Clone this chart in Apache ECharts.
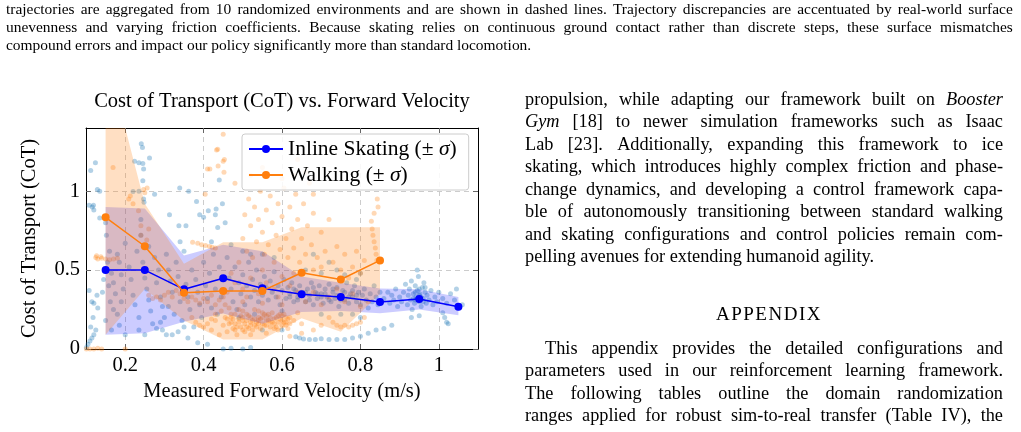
<!DOCTYPE html>
<html>
<head>
<meta charset="utf-8">
<script src="https://cdn.jsdelivr.net/npm/echarts@6/dist/echarts.min.js"></script>
<style>
  html, body { margin:0; padding:0; background:#fff; }
  body { width:1021px; height:432px; position:relative; overflow:hidden; font-family:"Liberation Serif", "Times New Roman", serif; color:#000; }
  #chart { position:absolute; left:0; top:0; width:564px; height:432px; }
  .ln { position:absolute; white-space:nowrap; }
  .j { display:flex; justify-content:space-between; }
  .cap { font-size:15.45px; line-height:18px; left:6px; width:1007px; }
  .body { font-size:18.3px; line-height:22.5px; left:525px; width:478px; }
  .hd { position:absolute; left:530px; width:478px; text-align:center; font-size:19px; line-height:22.5px; letter-spacing:1.5px; }
  i { font-style:italic; }
</style>
</head>
<body>
<div id="chart"></div>
<div id="text"></div>
<script>
// ---------------- data ----------------
const xTicks = [0.2, 0.4, 0.6, 0.8, 1.0];
const yTicks = [0, 0.5, 1];

const skateVel   = [0.15, 0.25, 0.35, 0.45, 0.55, 0.65, 0.75, 0.85, 0.95, 1.05];
const skateMean  = [0.50, 0.50, 0.378, 0.448, 0.385, 0.347, 0.330, 0.298, 0.317, 0.267];
const skateUpper = [0.90, 0.89, 0.593, 0.660, 0.620, 0.460, 0.420, 0.383, 0.378, 0.330];
const skateLower = [0.09, 0.10, 0.172, 0.225, 0.160, 0.235, 0.240, 0.227, 0.250, 0.214];

const walkVel    = [0.15, 0.25, 0.35, 0.45, 0.55, 0.65, 0.75, 0.85];
const walkMean   = [0.834, 0.651, 0.357, 0.368, 0.368, 0.483, 0.440, 0.561];
const walkUpper  = [1.88, 0.92, 0.54, 0.677, 0.677, 0.771, 0.771, 0.771];
const walkLower  = [0.09, 0.38, 0.18, 0.06, 0.06, 0.195, 0.11, 0.35];

const skatePts = [
 [0.101,0.01],[0.105,0.03],[0.11,0.05],[0.115,0.07],[0.12,0.09],[0.112,0.14],[0.125,0.12],
 [0.108,0.37],[0.115,0.30],[0.12,0.29],[0.128,0.34],[0.13,0.26],[0.118,0.20],
 [0.108,0.91],[0.116,0.90],[0.112,1.13],[0.124,1.18],[0.129,1.01],[0.135,1.0],[0.119,0.91],[0.12,0.88],[0.135,0.83],
 [0.15,0.80],[0.152,0.72],[0.16,0.62],[0.155,0.55],[0.165,0.48],[0.17,0.42],[0.158,0.40],[0.175,0.35],[0.162,0.30],
 [0.17,0.25],[0.18,0.22],[0.15,0.18],[0.165,0.12],[0.185,0.55],[0.19,0.47],[0.18,0.60],[0.195,0.38],[0.145,0.44],
 [0.19,0.30],[0.2,0.67],[0.185,0.15],[0.2,0.09],[0.142,0.36],
 [0.21,0.52],[0.215,0.44],[0.22,0.34],[0.225,0.28],[0.23,0.62],[0.235,0.20],[0.24,0.72],[0.245,0.55],[0.25,0.45],
 [0.255,0.38],[0.26,0.31],[0.265,0.24],[0.27,0.16],[0.275,0.58],[0.28,0.42],[0.285,0.50],[0.29,0.33],[0.295,0.27],
 [0.3,0.20],[0.235,0.12],[0.25,0.09],[0.28,0.13],[0.26,0.65],[0.24,0.82],
 [0.241,1.30],[0.244,1.276],[0.224,1.19],[0.235,1.18],[0.245,1.175],[0.262,1.21],[0.247,1.14],[0.245,1.066],
 [0.235,1.0],[0.22,0.998],[0.275,0.98],[0.247,0.95],[0.248,0.93],
 [0.339,1.02],[0.362,1.0],[0.382,0.935],[0.313,0.85],[0.337,0.78],[0.355,0.78],[0.4,0.834],[0.412,0.876],
 [0.432,0.887],[0.44,1.07],[0.436,0.77],[0.39,0.85],
 [0.305,0.6],[0.31,0.5],[0.315,0.43],[0.31,0.27],[0.32,0.36],[0.325,0.22],[0.33,0.55],[0.335,0.46],[0.34,0.30],
 [0.345,0.18],[0.35,0.62],[0.355,0.41],[0.36,0.33],[0.365,0.25],[0.37,0.50],[0.375,0.14],[0.38,0.44],[0.385,0.36],
 [0.39,0.28],[0.395,0.20],[0.4,0.55],[0.405,0.40],[0.41,0.32],[0.415,0.48],[0.42,0.26],[0.425,0.60],[0.43,0.38],
 [0.435,0.22],[0.44,0.52],[0.445,0.33],[0.34,0.68],[0.42,0.68],
 [0.29,0.17],[0.295,0.12],[0.305,0.09],[0.32,0.09],[0.335,0.11],[0.35,0.14],[0.36,0.07],[0.385,0.04],[0.41,0.03],
 [0.448,0.92],[0.43,0.85],[0.455,0.8],
 [0.46,0.58],[0.465,0.45],[0.47,0.38],[0.475,0.30],[0.48,0.52],[0.485,0.25],[0.49,0.42],[0.495,0.35],[0.5,0.47],
 [0.505,0.28],[0.51,0.40],[0.515,0.55],[0.52,0.33],[0.525,0.44],[0.53,0.37],[0.535,0.50],[0.54,0.30],[0.545,0.41],
 [0.55,0.34],[0.555,0.46],[0.56,0.39],[0.565,0.31],[0.57,0.43],[0.575,0.36],[0.58,0.49],[0.585,0.33],[0.59,0.40],
 [0.595,0.28],[0.6,0.37],[0.605,0.44],[0.61,0.32],[0.615,0.39],[0.62,0.35],[0.625,0.42],[0.63,0.30],[0.635,0.37],
 [0.64,0.33],[0.645,0.40],[0.65,0.36],
 [0.5,0.62],[0.52,0.6],[0.47,0.66],[0.55,0.6],[0.58,0.58],[0.49,0.2],[0.53,0.22],[0.6,0.24],
 [0.45,0.0],[0.47,0.005],[0.5,0.0],[0.52,0.01],[0.55,0.12],[0.6,0.12],
 [0.635,0.078],[0.645,0.07],[0.655,0.064],[0.67,0.06],[0.685,0.06],[0.70,0.065],[0.72,0.06],[0.74,0.06],[0.76,0.06],
 [0.78,0.07],[0.80,0.08],[0.82,0.1],[0.84,0.12],[0.86,0.13],[0.88,0.15],
 [0.66,0.30],[0.665,0.38],[0.67,0.34],[0.675,0.42],[0.68,0.28],[0.685,0.36],[0.69,0.32],[0.695,0.40],[0.7,0.35],
 [0.705,0.29],[0.71,0.38],[0.715,0.33],[0.72,0.41],[0.725,0.30],[0.73,0.36],[0.735,0.32],[0.74,0.39],[0.745,0.27],
 [0.75,0.34],[0.755,0.37],[0.76,0.31],[0.765,0.42],[0.77,0.29],[0.775,0.35],[0.78,0.33],[0.785,0.40],[0.79,0.30],
 [0.795,0.36],[0.8,0.28],[0.805,0.34],[0.81,0.38],[0.815,0.31],[0.82,0.26],[0.825,0.35],[0.83,0.30],[0.835,0.40],
 [0.84,0.33],[0.845,0.28],[0.85,0.36],
 [0.66,0.5],[0.7,0.48],[0.72,0.55],[0.68,0.6],[0.76,0.47],[0.74,0.5],[0.79,0.44],[0.8,0.48],[0.75,0.22],[0.7,0.22],
 [0.8,0.2],[0.78,0.22],
 [0.86,0.32],[0.87,0.36],[0.875,0.29],[0.88,0.34],[0.885,0.31],[0.89,0.38],[0.895,0.27],[0.9,0.33],[0.905,0.30],
 [0.91,0.36],[0.915,0.41],[0.92,0.28],[0.922,0.34],[0.925,0.38],[0.928,0.31],[0.93,0.43],[0.932,0.25],[0.935,0.35],
 [0.938,0.29],[0.94,0.40],[0.942,0.33],[0.945,0.37],[0.948,0.46],[0.95,0.30],[0.952,0.35],[0.955,0.27],[0.958,0.39],
 [0.96,0.32],[0.962,0.42],[0.965,0.36],[0.968,0.29],[0.97,0.34],[0.975,0.31],[0.98,0.37],[0.985,0.28],[0.99,0.33],
 [0.995,0.30],[1.0,0.36],[1.01,0.32],[1.02,0.29],[1.03,0.35],[1.04,0.31],[1.05,0.26],[1.06,0.28],[1.01,0.23],
 [1.015,0.20],[1.02,0.17],[1.024,0.16],[0.93,0.2],[0.95,0.21],[0.945,0.5],[1.045,0.38],
 [0.62,0.33],[0.63,0.38],[0.64,0.31],[0.65,0.34],[0.66,0.36],[0.67,0.31],[0.68,0.39],[0.69,0.35],[0.7,0.33],
 [0.71,0.35],[0.72,0.31],[0.73,0.38],[0.74,0.34],[0.75,0.31],[0.76,0.36],[0.77,0.33],[0.78,0.37],[0.79,0.34],
 [0.94,0.31],[0.95,0.34],[0.96,0.3],[0.94,0.36],[0.955,0.33],[0.965,0.39],[0.935,0.32],[0.95,0.38]
];

const walkPts = [
 [0.169,1.15],[0.213,0.97],[0.209,0.95],[0.247,1.01],[0.256,1.02],[0.234,0.876],[0.24,0.78],[0.22,0.92],[0.25,0.99],
 [0.101,0.0],[0.11,0.0],[0.12,0.0],[0.13,0.005],[0.14,0.0],[0.2,0.0],
 [0.125,0.58],[0.13,0.57],[0.14,0.575],[0.15,0.57],[0.16,0.565],[0.17,0.57],[0.18,0.575],[0.127,0.59],[0.138,0.585],
 [0.24,0.72],[0.255,0.69],[0.26,0.76],
 [0.26,0.34],[0.27,0.32],[0.28,0.33],[0.29,0.31],[0.3,0.34],[0.31,0.36],[0.32,0.33],[0.33,0.37],[0.34,0.35],
 [0.35,0.32],[0.36,0.30],[0.37,0.33],[0.38,0.31],[0.39,0.29],[0.4,0.32],[0.41,0.3],[0.42,0.34],[0.43,0.28],
 [0.44,0.31],[0.45,0.33],
 [0.372,0.677],[0.385,0.67],[0.395,0.66],[0.405,0.655],[0.415,0.65],[0.422,0.645],[0.43,0.64],
 [0.37,0.2],[0.38,0.17],[0.39,0.15],[0.4,0.14],[0.41,0.16],[0.42,0.19],[0.43,0.22],
 [0.416,1.14],[0.437,1.16],[0.404,0.98],
 [0.42,0.12],[0.43,0.18],[0.44,0.09],[0.445,0.24],[0.45,0.15],[0.455,0.2],[0.46,0.11],[0.465,0.26],[0.47,0.17],
 [0.475,0.13],[0.48,0.22],[0.485,0.09],[0.49,0.19],[0.495,0.14],[0.5,0.24],[0.505,0.11],[0.51,0.18],[0.515,0.21],
 [0.52,0.15],[0.525,0.12],[0.53,0.25],[0.535,0.17],[0.54,0.2],[0.545,0.13],[0.55,0.16],[0.555,0.22],[0.56,0.1],
 [0.565,0.18],[0.57,0.14],[0.575,0.23],[0.58,0.16],[0.585,0.2],[0.59,0.12],[0.595,0.19],[0.6,0.15],[0.605,0.22],
 [0.61,0.17],[0.615,0.13],[0.62,0.2],[0.63,0.18],[0.64,0.23],[0.65,0.16],
 [0.46,0.19],[0.48,0.16],[0.5,0.18],[0.52,0.2],[0.54,0.16],[0.56,0.21],[0.58,0.19],[0.6,0.18],[0.47,0.22],[0.49,0.25],
 [0.51,0.14],[0.53,0.19],[0.55,0.23],[0.57,0.2],[0.59,0.17],[0.61,0.2],[0.5,0.12],[0.52,0.09],[0.54,0.24],[0.56,0.15],
 [0.455,0.28],[0.5,0.3],[0.55,0.29],[0.6,0.28],
 [0.465,0.16],[0.475,0.19],[0.485,0.14],[0.495,0.21],[0.505,0.16],[0.515,0.13],[0.525,0.18],[0.535,0.14],
 [0.545,0.19],[0.555,0.15],[0.565,0.22],[0.575,0.17],[0.585,0.14],[0.595,0.22],[0.605,0.17],[0.615,0.19],
 [0.47,0.2],[0.49,0.17],[0.51,0.22],[0.53,0.15],[0.55,0.2],[0.57,0.17],[0.59,0.21],[0.61,0.15],[0.48,0.12],
 [0.52,0.17],[0.56,0.18],[0.58,0.13],[0.6,0.21],[0.62,0.16],[0.5,0.2],[0.54,0.18],
 [0.46,0.36],[0.48,0.42],[0.5,0.38],[0.52,0.45],[0.54,0.35],[0.56,0.42],[0.58,0.38],[0.6,0.46],[0.62,0.4],[0.64,0.36],
 [0.47,0.48],[0.51,0.33],[0.55,0.5],[0.59,0.33],[0.63,0.48],
 [0.49,0.55],[0.5,0.7],[0.505,0.85],[0.51,0.62],[0.515,0.95],[0.52,0.78],[0.525,0.58],[0.53,0.9],[0.535,0.68],
 [0.54,0.82],[0.545,1.0],[0.55,0.74],[0.555,0.6],[0.56,0.88],[0.565,0.66],[0.57,0.97],[0.575,0.8],[0.58,0.55],
 [0.585,0.72],[0.59,0.92],[0.595,0.63],[0.6,0.84],[0.605,1.02],[0.61,0.7],[0.615,0.58],[0.62,0.9],[0.625,0.76],
 [0.63,0.64],[0.635,0.98],[0.64,0.82],[0.645,0.55],[0.65,0.7],[0.655,0.92],[0.66,0.6],[0.665,0.78],[0.67,1.05],
 [0.675,0.66],[0.68,0.86],[0.69,0.58],[0.7,0.74],[0.71,0.62],[0.72,0.82],[0.68,0.5],[0.7,0.52],
 [0.436,1.265],[0.453,1.2],[0.45,1.36],[0.433,1.26],[0.45,1.19],[0.41,1.14],[0.452,1.12],[0.48,1.05],[0.52,1.1],
 [0.55,1.15],[0.6,1.08],[0.63,1.1],[0.66,1.12],[0.68,0.98],[0.64,1.2],
 [0.73,0.55],[0.74,0.65],[0.75,0.5],[0.76,0.6],[0.77,0.45],[0.78,0.52],[0.79,0.62],[0.8,0.48],[0.81,0.56],
 [0.828,0.81],[0.83,0.76],[0.832,0.72],[0.835,0.68],[0.838,0.64],[0.84,0.6],[0.842,0.56],[0.845,0.9],[0.843,0.95],
 [0.835,0.86],
 [0.72,0.2],[0.73,0.17],[0.74,0.15],[0.75,0.14],[0.76,0.15],[0.77,0.14],[0.78,0.15],[0.79,0.16],[0.8,0.17],[0.81,0.2],
 [0.66,0.3],[0.68,0.36],[0.7,0.28],[0.72,0.33],[0.74,0.38],[0.76,0.3],[0.78,0.35],[0.8,0.27],[0.82,0.3],
 [0.62,0.08],[0.65,0.1],[0.68,0.12],[0.7,0.15]
];

// ---------------- page text ----------------
const captionLines = [
 "trajectories are aggregated from 10 randomized environments and are shown in dashed lines. Trajectory discrepancies are accentuated by real-world surface",
 "unevenness and varying friction coefficients. Because skating relies on continuous ground contact rather than discrete steps, these surface mismatches",
 "compound errors and impact our policy significantly more than standard locomotion."
];
const colLines = [
 "propulsion, while adapting our framework built on _Booster_",
 "_Gym_ [18] to newer simulation frameworks such as Isaac",
 "Lab [23]. Additionally, expanding this framework to ice",
 "skating, which introduces highly complex friction and phase-",
 "change dynamics, and developing a control framework capa-",
 "ble of autonomously transitioning between standard walking",
 "and skating configurations and control policies remain com-",
 "pelling avenues for extending humanoid agility."
];
const appendixTitle = "APPENDIX";
const appendixLines = [
 "This appendix provides the detailed configurations and",
 "parameters used in our reinforcement learning framework.",
 "The following tables outline the domain randomization",
 "ranges applied for robust sim-to-real transfer (Table IV), the"
];

function wordHtml(w) {
  const m = w.match(/^_(.*)_([.,]?)$/);
  return m ? '<i>' + m[1] + '</i>' + m[2] : w;
}
function addLine(cls, top, text, justify, indent) {
  const d = document.createElement('div');
  d.className = 'ln ' + cls + (justify ? ' j' : '');
  d.style.top = top + 'px';
  if (indent) { d.style.left = (525 + indent) + 'px'; d.style.width = (478 - indent) + 'px'; }
  if (justify) d.innerHTML = text.split(' ').map(w => '<span>' + wordHtml(w) + '</span>').join('');
  else d.innerHTML = text.split(' ').map(wordHtml).join(' ');
  document.getElementById('text').appendChild(d);
}
captionLines.forEach((t, i) => addLine('cap', 0.1 + i * 18, t, i < 2));
colLines.forEach((t, i) => addLine('body', 87.9 + i * 22.5, t, i < colLines.length - 1));
const hd = document.createElement('div'); hd.className = 'hd'; hd.style.top = '302.5px'; hd.textContent = appendixTitle;
document.getElementById('text').appendChild(hd);
appendixLines.forEach((t, i) => addLine('body', 336.9 + i * 22.5, t, true, i === 0 ? 20 : 0));

// ---------------- chart ----------------
const FONT = 'Liberation Serif';
const FS = 20.5;
const chart = echarts.init(document.getElementById('chart'), null, { renderer: 'canvas' });

function band(name, xs, lo, hi, color) {
  return {
    type: 'custom', name: name, clip: true, silent: true, z: 3,
    data: xs.map((x, i) => [x, lo[i], hi[i]]),
    encode: { x: 0, y: [1, 2] },
    renderItem: function (params, api) {
      if (params.dataIndex !== 0) return null;
      const pts = [];
      for (let i = 0; i < xs.length; i++) pts.push(api.coord([xs[i], hi[i]]));
      for (let i = xs.length - 1; i >= 0; i--) pts.push(api.coord([xs[i], lo[i]]));
      return { type: 'polygon', shape: { points: pts }, style: { fill: color } };
    }
  };
}

const axisCommon = {
  type: 'value',
  axisLine: { show: true, onZero: false, lineStyle: { color: '#000', width: 1 } },
  axisTick: { show: true, inside: true, length: 5, lineStyle: { color: '#666', width: 1 } },
};

const skateName = 'Inline Skating (± σ)';
const walkName = 'Walking (± σ)';

chart.setOption({
  animation: false,
  backgroundColor: 'transparent',
  title: {
    text: 'Cost of Transport (CoT) vs. Forward Velocity',
    left: 'center', top: 86,
    textStyle: { fontFamily: FONT, fontSize: FS, fontWeight: 'normal', color: '#000' }
  },
  grid: { left: 86, top: 128, width: 392, height: 221, containLabel: false },
  legend: {
    data: [skateName, walkName],
    orient: 'vertical', left: 242, top: 134,
    itemWidth: 34, itemHeight: 10, itemGap: 4,
    padding: [4, 12, 4, 6],
    backgroundColor: 'rgba(255,255,255,0.85)', borderColor: '#cccccc', borderWidth: 1, borderRadius: 3,
    textStyle: { fontFamily: FONT, fontSize: 21.5, color: '#000',
      rich: { i: { fontFamily: FONT, fontSize: 21.5, fontStyle: 'italic', color: '#000' } } },
    formatter: n => n.replace('σ', '{i|σ}')
  },
  xAxis: [
    Object.assign({}, axisCommon, {
      min: 0.1, max: 1.1, position: 'bottom',
      name: 'Measured Forward Velocity (m/s)', nameLocation: 'middle', nameGap: 31.5,
      nameTextStyle: { fontFamily: FONT, fontSize: FS, color: '#000' },
      axisTick: Object.assign({}, axisCommon.axisTick, { customValues: xTicks }),
      axisLabel: { customValues: xTicks, fontFamily: FONT, fontSize: FS, color: '#000', margin: 6 },
      splitLine: { show: true, lineStyle: { type: [5, 4], color: '#cccccc', width: 1 } }
    }),
    Object.assign({}, axisCommon, {
      min: 0.1, max: 1.1, position: 'top',
      axisTick: Object.assign({}, axisCommon.axisTick, { customValues: xTicks }),
      axisLabel: { show: false }, splitLine: { show: false }
    })
  ],
  yAxis: [
    Object.assign({}, axisCommon, {
      min: 0, max: 1.4, position: 'left',
      name: 'Cost of Transport (CoT)', nameLocation: 'middle', nameGap: 45.5,
      nameTextStyle: { fontFamily: FONT, fontSize: FS, color: '#000' },
      axisTick: Object.assign({}, axisCommon.axisTick, { customValues: yTicks }),
      axisLabel: { customValues: yTicks, fontFamily: FONT, fontSize: FS, color: '#000', margin: 6 },
      splitLine: { show: true, lineStyle: { type: [5, 4], color: '#cccccc', width: 1 } }
    }),
    Object.assign({}, axisCommon, {
      min: 0, max: 1.4, position: 'right',
      axisTick: Object.assign({}, axisCommon.axisTick, { customValues: yTicks }),
      axisLabel: { show: false }, splitLine: { show: false }
    })
  ],
  series: [
    { type: 'scatter', name: 'skate-raw', data: skatePts, symbolSize: 5, silent: true, z: 2,
      itemStyle: { color: 'rgba(31,119,180,0.42)' } },
    { type: 'scatter', name: 'walk-raw', data: walkPts, symbolSize: 5, silent: true, z: 2,
      itemStyle: { color: 'rgba(255,127,14,0.38)' } },
    band('skate-band', skateVel, skateLower, skateUpper, 'rgba(0,0,255,0.2)'),
    { type: 'line', name: skateName, data: skateVel.map((x, i) => [x, skateMean[i]]), z: 4,
      symbol: 'circle', symbolSize: 8, showSymbol: true,
      lineStyle: { color: '#0000ff', width: 1.5 }, itemStyle: { color: '#0000ff' } },
    band('walk-band', walkVel, walkLower, walkUpper, 'rgba(255,127,14,0.25)'),
    { type: 'line', name: walkName, data: walkVel.map((x, i) => [x, walkMean[i]]), z: 5,
      symbol: 'circle', symbolSize: 8, showSymbol: true,
      lineStyle: { color: '#ff7f0e', width: 1.5 }, itemStyle: { color: '#ff7f0e' } }
  ]
});
</script>
</body>
</html>
